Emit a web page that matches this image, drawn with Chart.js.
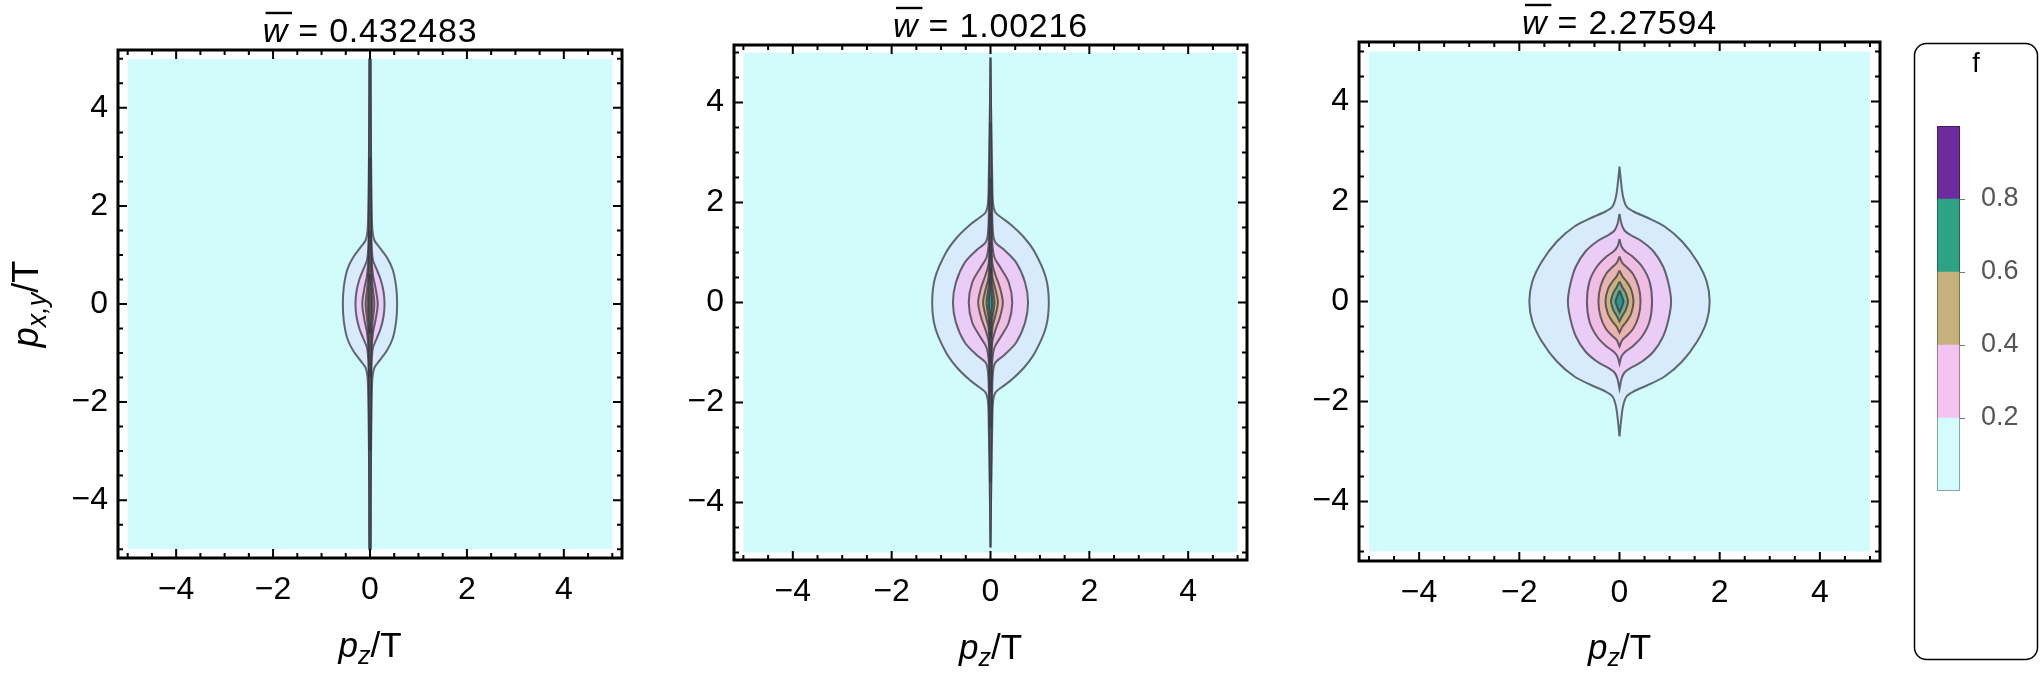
<!DOCTYPE html>
<html>
<head>
<meta charset="utf-8">
<script src="https://cdn.jsdelivr.net/npm/chart.js@4.4.0/dist/chart.umd.min.js"></script>
<style>
  html, body { margin: 0; padding: 0; background: #fff; }
  body { width: 2042px; height: 680px; position: relative; overflow: hidden; }
  .box { position: absolute; top: 0; height: 680px; }
</style>
</head>
<body>
<div class="box" id="b0"><canvas id="c0"></canvas></div>
<div class="box" id="b1"><canvas id="c1"></canvas></div>
<div class="box" id="b2"><canvas id="c2"></canvas></div>
<div class="box" id="b3"><canvas id="c3"></canvas></div>
<script>
// values
var wbar = ['0.432483', '1.00216', '2.27594'];
var xTicks = [-4, -2, 0, 2, 4];
var yTicks = [-4, -2, 0, 2, 4];
var plotRange = [-5, 5];
var legendTicks = [0.2, 0.4, 0.6, 0.8];
var legendBands = [[0, 0.2], [0.2, 0.4], [0.4, 0.6], [0.6, 0.8], [0.8, 1.0]];

// contour lines, outer to inner: [p_xy/T, half width in p_z/T], upper half (mirrored)
var panel1 = [
  [[5, 0.012], [4, 0.016], [3, 0.022], [2, 0.035], [1.5, 0.05], [1.3, 0.09], [1.15, 0.2], [0.95, 0.35], [0.7, 0.47], [0.35, 0.54], [0, 0.56]],
  [[5, 0.008], [4, 0.011], [2.5, 0.018], [1.3, 0.03], [0.9, 0.06], [0.7, 0.14], [0.5, 0.22], [0.25, 0.28], [0, 0.3]],
  [[5, 0.004], [3.5, 0.008], [2, 0.015], [1, 0.028], [0.6, 0.06], [0.3, 0.12], [0, 0.16]],
  [[3, 0], [2, 0.008], [1, 0.018], [0.4, 0.05], [0, 0.09]],
  [[1.5, 0], [0.5, 0.02], [0, 0.045]],
  [[0.6, 0], [0, 0.02]]
];
var panel2 = [
  [[4.9, 0], [4.2, 0.008], [3.6, 0.015], [3.0, 0.025], [2.5, 0.035], [2.0, 0.05], [1.8, 0.1], [1.7, 0.22], [1.55, 0.42], [1.3, 0.68], [1.0, 0.9], [0.5, 1.12], [0, 1.18]],
  [[4.9, 0], [4.0, 0.01], [3.0, 0.018], [2.0, 0.03], [1.4, 0.05], [1.2, 0.1], [1.05, 0.28], [0.8, 0.52], [0.4, 0.7], [0, 0.76]],
  [[3.6, 0], [3.0, 0.008], [2.0, 0.018], [1.2, 0.035], [0.9, 0.08], [0.7, 0.2], [0.4, 0.37], [0, 0.44]],
  [[2.5, 0], [1.5, 0.013], [0.8, 0.035], [0.55, 0.1], [0.3, 0.19], [0, 0.25]],
  [[1.8, 0], [1.0, 0.013], [0.5, 0.04], [0.3, 0.09], [0, 0.15]],
  [[1.2, 0], [0.6, 0.012], [0.3, 0.04], [0, 0.08]],
  [[0.7, 0], [0.3, 0.012], [0, 0.035]]
];
var panel3 = [
  [[2.7, 0], [2.4, 0.03], [2.1, 0.07], [1.9, 0.14], [1.8, 0.28], [1.68, 0.55], [1.5, 0.9], [1.2, 1.25], [0.8, 1.55], [0.4, 1.74], [0, 1.8]],
  [[1.75, 0], [1.55, 0.04], [1.42, 0.1], [1.33, 0.22], [1.2, 0.45], [1.0, 0.68], [0.7, 0.87], [0.35, 0.98], [0, 1.03]],
  [[1.25, 0], [1.1, 0.04], [1.0, 0.12], [0.9, 0.26], [0.7, 0.45], [0.4, 0.6], [0, 0.65]],
  [[0.9, 0], [0.78, 0.05], [0.7, 0.13], [0.55, 0.27], [0.3, 0.38], [0, 0.42]],
  [[0.62, 0], [0.5, 0.06], [0.4, 0.14], [0.25, 0.23], [0, 0.28]],
  [[0.4, 0], [0.28, 0.06], [0.18, 0.12], [0, 0.17]],
  [[0.22, 0], [0.1, 0.05], [0, 0.08]]
];

var bgColor = '#d2fcfc';
var levelColors = ['#d7ebfc', '#eaccf7', '#f0bde3', '#e9b3b0', '#cbb27c', '#72ab8c', '#2e9391', '#35529b'];
var bandColors = ['#d3fcfc', '#f4c3f2', '#c6b07c', '#2ea285', '#6c2b9f'];
var lineColor = 'rgba(55,55,65,0.75)';
var FONT = '"Liberation Sans", Arial, sans-serif';
Chart.defaults.font.family = FONT;

// frame boxes in page pixels
var frames = [
  {L: 118, T: 50, R: 622, B: 558, xr: 5.2, yr: 5.18, ty: 42, lb: 657},
  {L: 734, T: 45, R: 1247, B: 560, xr: 5.19, yr: 5.15, ty: 37, lb: 659},
  {L: 1359, T: 42, R: 1880, B: 561, xr: 5.2, yr: 5.19, ty: 34, lb: 659}
];

function outline(c) {
  var pts = [];
  c.forEach(function (p) { pts.push({x: p[1], y: p[0]}); });
  c.slice(0, -1).reverse().forEach(function (p) { pts.push({x: p[1], y: -p[0]}); });
  c.forEach(function (p) { pts.push({x: -p[1], y: -p[0]}); });
  c.slice(0, -1).reverse().forEach(function (p) { pts.push({x: -p[1], y: p[0]}); });
  return pts;
}

function drawParts(ctx, parts, x, y, spacing) {
  var total = 0;
  ctx.letterSpacing = (spacing || 0) + 'px';
  parts.forEach(function (p) {
    ctx.font = (p.i ? 'italic ' : '') + p.s + 'px ' + FONT;
    p.w = ctx.measureText(p.t).width;
    total += p.w;
  });
  var cx = x - total / 2;
  parts.forEach(function (p) {
    ctx.font = (p.i ? 'italic ' : '') + p.s + 'px ' + FONT;
    p.x = cx;
    ctx.fillText(p.t, cx, y + (p.dy || 0));
    cx += p.w;
  });
  ctx.letterSpacing = '0px';
  return parts;
}

function makePanel(k, contours) {
  var f = frames[k];
  var left = f.L - 115;
  var box = document.getElementById('b' + k);
  box.style.left = left + 'px';
  box.style.width = (f.R - f.L + 135) + 'px';

  // innermost contour first so it is painted on top
  var datasets = [];
  for (var i = contours.length - 1; i >= 0; i--) {
    datasets.push({
      data: outline(contours[i]),
      showLine: true, fill: 'shape', tension: 0.3,
      backgroundColor: levelColors[i], borderColor: lineColor, borderWidth: 2,
      pointRadius: 0
    });
  }
  datasets.push({
    data: [{x: plotRange[0], y: plotRange[1]}, {x: plotRange[1], y: plotRange[1]},
           {x: plotRange[1], y: plotRange[0]}, {x: plotRange[0], y: plotRange[0]}],
    showLine: true, fill: 'shape', tension: 0,
    backgroundColor: bgColor, borderWidth: 0, pointRadius: 0
  });

  var decor = {
    id: 'decor' + k,
    afterDraw: function (chart) {
      var ctx = chart.ctx, a = chart.chartArea, xs = chart.scales.x, ys = chart.scales.y;
      ctx.save();
      ctx.strokeStyle = '#000';
      ctx.lineWidth = 2;
      ctx.beginPath();
      for (var v = -5; v <= 5.001; v += 0.5) {
        var len = (Math.abs(v % 2) < 1e-6) ? 9 : 5;
        var px = xs.getPixelForValue(v), py = ys.getPixelForValue(v);
        ctx.moveTo(px, a.bottom); ctx.lineTo(px, a.bottom - len);
        ctx.moveTo(px, a.top); ctx.lineTo(px, a.top + len);
        ctx.moveTo(a.left, py); ctx.lineTo(a.left + len, py);
        ctx.moveTo(a.right, py); ctx.lineTo(a.right - len, py);
      }
      ctx.stroke();
      ctx.lineWidth = 3;
      ctx.strokeRect(a.left, a.top, a.right - a.left, a.bottom - a.top);

      var cx = xs.getPixelForValue(0);
      ctx.fillStyle = '#000';
      ctx.textBaseline = 'alphabetic';
      var parts = drawParts(ctx, [{t: 'w', i: true, s: 34}, {t: ' = ' + wbar[k], s: 34}], cx, f.ty, 0.8);
      ctx.lineWidth = 2.4;
      ctx.beginPath();
      ctx.moveTo(parts[0].x + 3, f.ty - 29);
      ctx.lineTo(parts[0].x + parts[0].w + 4, f.ty - 29);
      ctx.stroke();

      drawParts(ctx, [{t: 'p', i: true, s: 35}, {t: 'z', i: true, s: 25, dy: 7}, {t: '/T', s: 35}], cx, f.lb);
      if (k === 0) {
        ctx.save();
        ctx.translate(38 - left, ys.getPixelForValue(0));
        ctx.rotate(-Math.PI / 2);
        drawParts(ctx, [{t: 'p', i: true, s: 36}, {t: 'x,y', i: true, s: 27, dy: 8}, {t: '/T', s: 36}], 0, 0);
        ctx.restore();
      }
      ctx.restore();
    }
  };

  var minus = function (v) { return v < 0 ? '\u2212' + Math.abs(v) : String(v); };

  return new Chart(document.getElementById('c' + k), {
    type: 'scatter',
    data: {datasets: datasets},
    options: {
      responsive: true, maintainAspectRatio: false, animation: false,
      layout: {padding: {top: f.T, right: 20, left: 0, bottom: 0}},
      plugins: {legend: {display: false}, tooltip: {enabled: false}},
      scales: {
        x: {
          type: 'linear', min: -f.xr, max: f.xr,
          afterFit: function (s) { s.height = 680 - f.B; },
          afterBuildTicks: function (s) { s.ticks = xTicks.map(function (v) { return {value: v}; }); },
          grid: {display: false, drawTicks: false}, border: {display: false},
          ticks: {font: {size: 32}, color: '#000', padding: 13, maxRotation: 0, callback: minus}
        },
        y: {
          type: 'linear', min: -f.yr, max: f.yr,
          afterFit: function (s) { s.width = 115; },
          afterBuildTicks: function (s) { s.ticks = yTicks.map(function (v) { return {value: v}; }); },
          grid: {display: false, drawTicks: false}, border: {display: false},
          ticks: {font: {size: 32}, color: '#000', padding: 10, callback: minus}
        }
      }
    },
    plugins: [decor]
  });
}

makePanel(0, panel1);
makePanel(1, panel2);
makePanel(2, panel3);

// bar legend
var lb = document.getElementById('b3');
lb.style.left = '1910px';
lb.style.width = '132px';
var legendBox = {
  id: 'legendBox',
  beforeDraw: function (chart) {
    var ctx = chart.ctx;
    ctx.save();
    ctx.strokeStyle = '#000';
    ctx.lineWidth = 1.5;
    ctx.beginPath();
    ctx.roundRect(4.5, 43.5, 123, 616, 12);
    ctx.stroke();
    ctx.restore();
  },
  afterDraw: function (chart) {
    var ctx = chart.ctx, a = chart.chartArea;
    ctx.save();
    ctx.strokeStyle = 'rgba(0,0,0,0.35)';
    ctx.lineWidth = 1;
    ctx.strokeRect(a.left + 0.5, a.top + 0.5, a.right - a.left - 1, a.bottom - a.top - 1);
    ctx.fillStyle = '#000';
    ctx.font = '27px ' + FONT;
    ctx.textAlign = 'center';
    ctx.fillText('f', 66, 72);
    ctx.restore();
  }
};
new Chart(document.getElementById('c3'), {
  type: 'bar',
  data: {
    labels: ['f'],
    datasets: legendBands.map(function (b, i) {
      return {data: [b], backgroundColor: bandColors[i], borderWidth: 0, barPercentage: 1, categoryPercentage: 1};
    })
  },
  options: {
    responsive: true, maintainAspectRatio: false, animation: false,
    layout: {padding: {left: 27, top: 126, bottom: 189, right: 0}},
    plugins: {legend: {display: false}, tooltip: {enabled: false}},
    scales: {
      x: {display: false, stacked: true},
      y: {
        position: 'right', min: 0, max: 1,
        afterFit: function (s) { s.width = 82; },
        afterBuildTicks: function (s) { s.ticks = legendTicks.map(function (v) { return {value: v}; }); },
        grid: {drawOnChartArea: false, drawTicks: true, tickLength: 5, color: '#777'},
        border: {display: false},
        ticks: {font: {size: 27}, color: '#555', padding: 16, callback: function (v) { return v.toFixed(1); }}
      }
    }
  },
  plugins: [legendBox]
});
</script>
</body>
</html>
